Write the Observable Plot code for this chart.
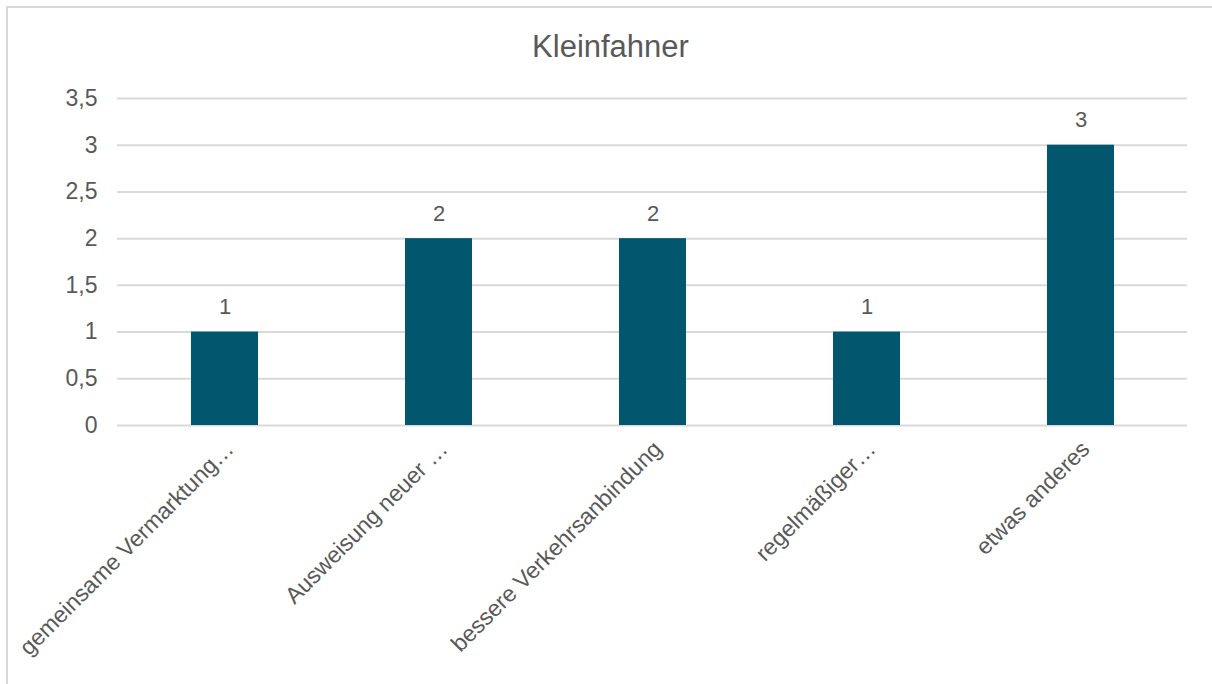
<!DOCTYPE html>
<html>
<head>
<meta charset="utf-8">
<script src="https://cdn.jsdelivr.net/npm/d3@7"></script>
<script src="https://cdn.jsdelivr.net/npm/@observablehq/plot@0.6"></script>
<style>
  html, body { margin: 0; padding: 0; background: #fff; }
  #wrap { position: relative; width: 1212px; height: 684px; overflow: hidden; font-family: "Liberation Sans", Arial, sans-serif; }
  #border { position: absolute; left: 6px; top: 6px; width: 1230px; height: 700px; border: 2px solid #d9d9d9; box-sizing: border-box; }
  #title { position: absolute; left: 0; top: 0; width: 1221px; height: 70px; line-height: 94px; text-align: center; font-size: 31px; color: #595959; }
  #chart { position: absolute; left: 0; top: 70px; }
</style>
</head>
<body>
<div id="wrap">
  <div id="border"></div>
  <div id="title">Kleinfahner</div>
  <div id="chart"></div>
</div>
<script>
const categories = ["gemeinsame Vermarktung…", "Ausweisung neuer …", "bessere Verkehrsanbindung", "regelmäßiger…", "etwas anderes"];
const values = [1, 2, 2, 1, 3];
const yTicks = [0, 0.5, 1, 1.5, 2, 2.5, 3, 3.5];

const data = categories.map((c, i) => ({category: c, value: values[i]}));
const fmt = v => String(v).replace(".", ",");

const textColor = "#595959";
const plot = Plot.plot({
  width: 1212,
  height: 614,
  marginLeft: 117,
  marginRight: 25,
  marginTop: 28,
  marginBottom: 259,
  style: {fontFamily: "'Liberation Sans', Arial, sans-serif", color: textColor, background: "transparent"},
  x: {domain: categories, paddingInner: 0.687, paddingOuter: 0.3435, axis: null},
  y: {domain: [0, 3.5], axis: null},
  marks: [
    Plot.ruleY(yTicks, {stroke: "#d9d9d9", strokeWidth: 2}),
    Plot.text(yTicks, {frameAnchor: "left", y: d => d, text: d => fmt(d), textAnchor: "end", dx: -20, fontSize: 23, fill: textColor}),
    Plot.barY(data, {x: "category", y: "value", fill: "#02566e"}),
    Plot.text(data, {x: "category", y: "value", text: d => fmt(d.value), lineAnchor: "bottom", dy: -18, fontSize: 22, fill: textColor}),
    Plot.text(data, {x: "category", frameAnchor: "bottom", text: "category", rotate: -45, textAnchor: "end", dx: 10, dy: 25, fontSize: 23, fill: textColor})
  ]
});
document.getElementById("chart").appendChild(plot);
</script>
</body>
</html>
